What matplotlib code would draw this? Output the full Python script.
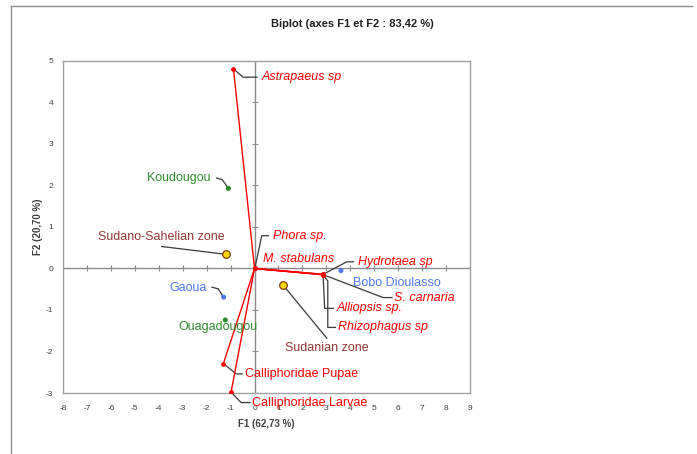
import matplotlib
matplotlib.use("Agg")
import matplotlib.pyplot as plt
from matplotlib.lines import Line2D
import numpy as np

plt.rcParams['font.family'] = ['Liberation Sans', 'DejaVu Sans']
plt.rcParams['axes.unicode_minus'] = False

# ---------------- data ----------------
# observations (sites)
obs_names = ["Koudougou", "Gaoua", "Ouagadougou", "Bobo Dioulasso"]
obs_x = [-1.09, -1.29, -1.22, 3.61]
obs_y = [1.93, -0.69, -1.24, -0.05]
obs_colors = ["#2E8B2E", "#4F78F0", "#2E8B2E", "#4F78F0"]

# supplementary zones
zone_names = ["Sudano-Sahelian zone", "Sudanian zone"]
zone_x = [-1.18, 1.18]
zone_y = [0.34, -0.39]

# variables (species)
var_names = ["Astrapaeus sp", "Phora sp.", "M. stabulans", "Hydrotaea sp",
             "S. carnaria", "Alliopsis sp.", "Rhizophagus sp",
             "Calliphoridae Pupae", "Calliphoridae Larvae"]
var_x = [-0.88, 0.02, 0.03, 2.87, 2.87, 2.86, 2.85, -1.30, -0.98]
var_y = [4.81, 0.02, 0.01, -0.14, -0.15, -0.14, -0.15, -2.29, -2.98]
var_italic = [True, True, True, True, True, True, True, False, False]

# ---------------- label layout (text anchor, ha, leader waypoints) ----------------
obs_labels = {
    "Koudougou": ((-1.83, 2.18), "right", [(-1.58, 2.18), (-1.35, 2.14)]),
    "Gaoua": ((-2.0, -0.48), "right", [(-1.78, -0.45), (-1.52, -0.49)]),
    "Ouagadougou": ((-1.52, -1.40), "center", None),
    "Bobo Dioulasso": ((4.10, -0.36), "left", None),
}
zone_labels = {
    "Sudano-Sahelian zone": ((-3.91, 0.75), "center", [(-3.88, 0.53)]),
    "Sudanian zone": ((3.02, -1.91), "center", [(3.02, -1.68)]),
}
var_labels = {
    "Astrapaeus sp": ((0.30, 4.61), [(0.10, 4.61), (-0.48, 4.61)]),
    "Phora sp.": ((0.79, 0.79), [(0.58, 0.79), (0.30, 0.79)]),
    "M. stabulans": ((0.37, 0.23), None),
    "Hydrotaea sp": ((4.32, 0.16), [(4.13, 0.16), (3.85, 0.16)]),
    "S. carnaria": ((5.83, -0.70), [(5.74, -0.70), (5.37, -0.70)]),
    "Alliopsis sp.": ((3.43, -0.96), [(3.29, -0.96), (2.93, -0.96)]),
    "Rhizophagus sp": ((3.50, -1.42), [(3.38, -1.42), (3.06, -1.42), (3.06, -0.30)]),
    "Calliphoridae Pupae": ((-0.40, -2.54), [(-0.52, -2.54), (-0.77, -2.54)]),
    "Calliphoridae Larvae": ((-0.09, -3.23), [(-0.19, -3.23), (-0.56, -3.23)]),
}

xticks = np.arange(-8, 10)
yticks = np.arange(-3, 6)

W, H = 697, 454
fig = plt.figure(figsize=(W / 100, H / 100), dpi=100)
ax = fig.add_axes([63 / W, 1 - 393 / H, 407 / W, 332 / H])
ax.set_xlim(-8, 9)
ax.set_ylim(-3, 5)

for s in ax.spines.values():
    s.set_color("#A0A0A0")
    s.set_linewidth(1.0)

ax.set_xticks(xticks)
ax.set_yticks(yticks)
ax.tick_params(length=0, labelsize=6, colors="#404040")
ax.tick_params(axis="x", pad=9)
ax.tick_params(axis="y", pad=7)

# axes through the origin with tick marks
ax.axhline(0, color="#8C8C8C", lw=1.0, zorder=1)
ax.axvline(0, color="#8C8C8C", lw=1.0, zorder=1)
ax.plot(xticks, np.zeros_like(xticks), ls="none", marker="|", ms=5,
        mew=0.8, color="#8C8C8C", zorder=1)
ax.plot(np.zeros_like(yticks), yticks, ls="none", marker="_", ms=5,
        mew=0.8, color="#8C8C8C", zorder=1)

lead_col = "#3A3A3A"
lead_lw = 0.9

# variable vectors
for vx, vy in zip(var_x, var_y):
    ax.plot([0, vx], [0, vy], color="red", lw=1.0, zorder=3)
ax.scatter(var_x, var_y, s=6, color="red", zorder=4)

# observations
ax.scatter(obs_x, obs_y, s=7, c=obs_colors, zorder=4)

# zones
ax.scatter(zone_x, zone_y, s=30, facecolor="#FFD800", edgecolor="#7A3B10",
           linewidth=0.9, zorder=5)


def leader(px, py, pts):
    xs = [p[0] for p in pts] + [px]
    ys = [p[1] for p in pts] + [py]
    ax.plot(xs, ys, color=lead_col, lw=lead_lw, zorder=2, clip_on=False)


for name, x, y, c in zip(obs_names, obs_x, obs_y, obs_colors):
    (tx, ty), ha, pts = obs_labels[name]
    if pts:
        leader(x, y, pts)
    ax.text(tx, ty, name, color=c, fontsize=9, ha=ha, va="center", zorder=6)

for name, x, y in zip(zone_names, zone_x, zone_y):
    (tx, ty), ha, pts = zone_labels[name]
    if pts:
        leader(x, y, pts)
    ax.text(tx, ty, name, color="#953735", fontsize=9, ha=ha, va="center", zorder=6)

for name, x, y, it in zip(var_names, var_x, var_y, var_italic):
    (tx, ty), pts = var_labels[name]
    if pts:
        leader(x, y, pts)
    ax.text(tx, ty, name, color="red", fontsize=9, ha="left", va="center",
            style="italic" if it else "normal", zorder=6, clip_on=False)

ax.set_xlabel("F1 (62,73 %)", fontsize=7, fontweight="bold", color="#404040", labelpad=5)
ax.set_ylabel("F2 (20,70 %)", fontsize=7, fontweight="bold", color="#404040", labelpad=2)

fig.text(352 / W, 1 - 24 / H, "Biplot (axes F1 et F2 : 83,42 %)", fontsize=8,
         fontweight="bold", ha="center", va="center", color="#202020")

# chart-area border (top and left only, as cropped)
fig.add_artist(Line2D([11 / W, 692 / W], [1 - 6 / H, 1 - 6 / H], color="#8C8C8C", lw=1.0))
fig.add_artist(Line2D([11 / W, 11 / W], [1 - 6 / H, 0], color="#8C8C8C", lw=1.0))

fig.savefig("out.png", dpi=100)
